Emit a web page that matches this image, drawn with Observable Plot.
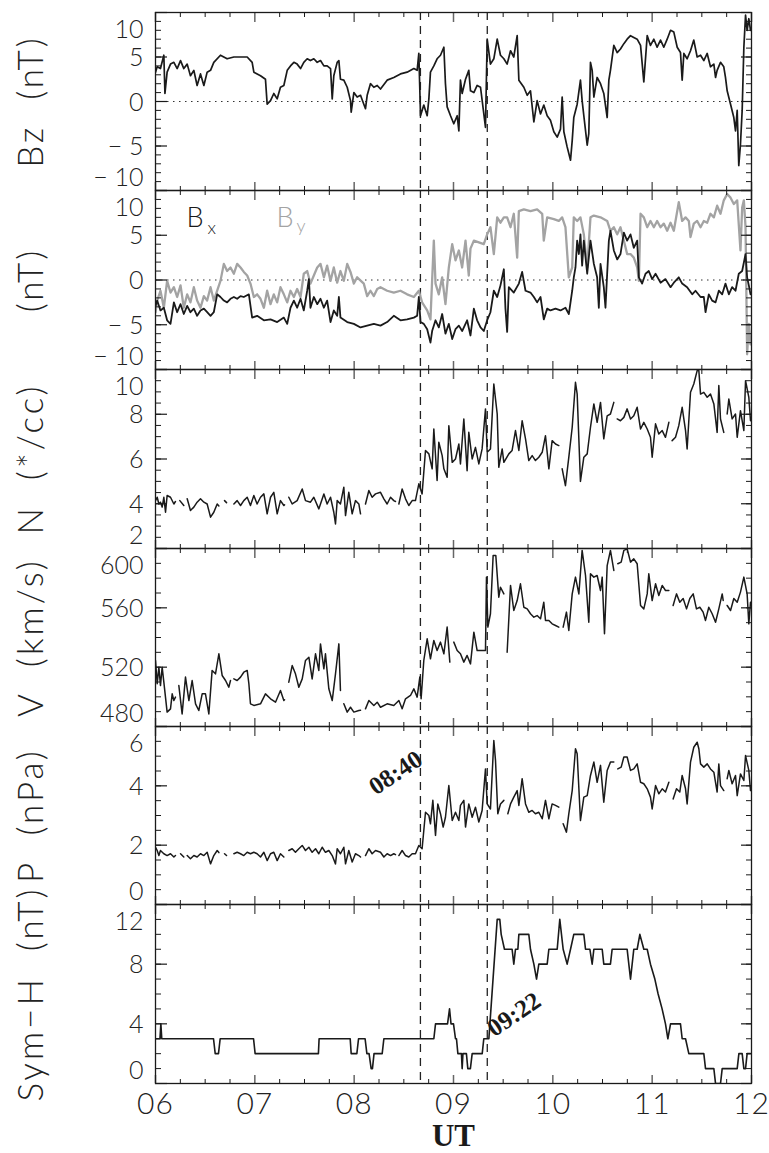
<!DOCTYPE html>
<html><head><meta charset="utf-8">
<script src="https://cdn.jsdelivr.net/npm/d3@7"></script>
<script src="https://cdn.jsdelivr.net/npm/@observablehq/plot@0.6"></script>
<style>
body{margin:0;background:#fff;}
#chart{position:relative;width:769px;height:1153px;background:#fff;}
#chart svg{position:absolute;left:0;overflow:visible;background:transparent;}
#chart text.ytitle{letter-spacing:3px;}
#chart text.xlab{letter-spacing:1px;}
</style></head><body><div id="chart"></div>
<script>
// ---------------- data (UT hours, values) ----------------
const hourTicks = [6, 7, 8, 9, 10, 11, 12];
const hourLabels = ["06", "07", "08", "09", "10", "11", "12"];
const eventTimes = [8.667, 9.34];
const eventLabels = ["08:40", "09:22"];

const bzTicks = [-10, -5, 0, 5, 10];
const bzTickLabels = ["\u2212 10", "\u2212 5", "0", "5", "10"];
const bxyTicks = [-10, -5, 0, 5, 10];
const bxyTickLabels = ["\u2212 10", "\u2212 5", "0", "5", "10"];
const nTicks = [2, 4, 6, 8, 10];
const nTickLabels = ["2", "4", "6", "8", "10"];
const vTicks = [480, 520, 560, 600];
const vTickLabels = ["480", "520", "560", "600"];
const pTicks = [0, 2, 4, 6];
const pTickLabels = ["0", "2", "4", "6"];
const symTicks = [0, 4, 8, 12];
const symTickLabels = ["0", "4", "8", "12"];

const bz = [[6.000,3.3],[6.017,3.9],[6.050,3.7],[6.084,5.2],[6.095,0.9],[6.117,3.3],[6.151,4.2],[6.185,4.4],[6.218,3.7],[6.252,4.6],[6.285,3.7],[6.319,4.2],[6.352,2.9],[6.386,3.5],[6.419,1.8],[6.453,3.1],[6.487,1.8],[6.520,3.3],[6.554,3.5],[6.587,4.4],[6.654,5.2],[6.721,4.8],[6.789,5.0],[6.856,5.0],[6.923,5.0],[6.973,4.4],[6.990,3.3],[7.057,2.9],[7.107,2.5],[7.124,-0.3],[7.158,0.1],[7.191,0.9],[7.225,0.3],[7.258,1.6],[7.292,1.8],[7.326,3.5],[7.359,4.0],[7.393,4.4],[7.426,4.2],[7.460,3.7],[7.493,4.4],[7.527,4.8],[7.560,4.6],[7.594,4.8],[7.628,4.4],[7.661,4.6],[7.695,4.0],[7.728,4.0],[7.762,3.7],[7.779,0.3],[7.795,2.9],[7.829,4.4],[7.846,4.6],[7.862,2.5],[7.896,2.4],[7.930,1.6],[7.963,0.1],[7.970,-1.2],[7.997,1.0],[8.030,0.5],[8.064,0.7],[8.097,-0.3],[8.114,-0.8],[8.131,0.7],[8.164,2.0],[8.198,1.6],[8.232,1.8],
[8.265,1.4],[8.332,2.4],[8.399,2.7],[8.466,3.1],[8.533,3.3],[8.601,3.7],[8.634,3.5],[8.651,5.4],[8.668,-1.6],[8.701,-0.4],[8.735,-1.6],[8.752,0.3],[8.768,3.3],[8.802,4.0],[8.835,4.8],[8.869,5.2],[8.903,6.1],[8.919,2.0],[8.936,-0.6],[8.970,-1.6],[9.003,-2.5],[9.037,-1.6],[9.054,-3.3],[9.070,2.4],[9.087,0.9],[9.121,2.5],[9.154,3.5],[9.171,1.2],[9.205,1.0],[9.238,1.8],[9.272,1.6],[9.322,-2.9],[9.339,7.0],[9.372,4.2],[9.406,4.8],[9.440,7.0],[9.473,5.2],[9.507,4.8],[9.540,4.2],[9.574,5.7],[9.607,5.0],[9.641,7.4],[9.658,2.4],[9.708,1.6],[9.742,0.7],[9.775,1.2],[9.809,-2.3],[9.842,0.1],[9.876,-1.4],[9.909,-0.4],[9.943,-1.6],[9.976,-2.1],[10.010,-3.4],[10.044,-4.0],[10.077,-3.1],[10.094,0.5],[10.111,-3.4],[10.144,-5.1],[10.178,-6.6],[10.195,-4.4],[10.211,-1.8],[10.245,-0.3],[10.278,2.4],[10.295,0.1],[10.312,-1.6],[10.346,-4.9],[10.362,-3.6],[10.379,4.4],[10.396,3.5],[10.413,0.5],[10.446,2.7],[10.480,2.0],[10.513,0.9],[10.547,-1.8],[10.564,2.4],[10.580,3.5],[10.614,6.3],[10.648,5.5],[10.681,5.9],[10.715,6.5],[10.748,7.0],[10.782,7.4],[10.815,7.2],[10.849,7.0],[10.883,6.3],[10.916,2.2],[10.950,7.4],[10.983,6.3],[11.017,7.0],[11.050,6.1],[11.084,6.9],[11.117,6.1],[11.151,7.0],[11.185,8.0],[11.218,7.8],[11.252,6.1],[11.285,5.5],[11.302,2.4],[11.319,5.4],[11.352,4.8],[11.386,5.7],[11.419,6.9],[11.453,5.0],[11.487,5.2],[11.520,4.6],[11.554,5.4],[11.587,3.9],[11.621,4.2],[11.638,2.7],[11.654,3.5],[11.688,4.4],[11.721,3.9],[11.738,2.7],[11.755,1.2],[11.789,-0.3],[11.822,-1.8],[11.839,-3.3],[11.856,-1.0],[11.872,-7.2],[11.889,-4.8],[11.906,-1.0],[11.923,6.1],[11.940,9.7],[11.956,8.0],[11.973,9.3],[11.990,8.0]];

const bx = [[6.000,-2.9],[6.017,-2.3],[6.050,-3.4],[6.084,-3.1],[6.117,-4.5],[6.151,-4.9],[6.185,-2.5],[6.218,-3.6],[6.252,-2.7],[6.285,-3.8],[6.319,-2.9],[6.352,-3.6],[6.386,-3.2],[6.419,-4.0],[6.453,-3.4],[6.487,-3.2],[6.520,-3.6],[6.554,-4.0],[6.587,-3.6],[6.621,-1.6],[6.654,-1.9],[6.688,-2.3],[6.721,-2.5],[6.755,-2.1],[6.789,-1.9],[6.822,-2.1],[6.856,-1.8],[6.889,-1.9],[6.940,-1.6],[6.973,-4.2],[7.023,-4.0],[7.091,-4.5],[7.158,-4.4],[7.225,-4.7],[7.292,-4.2],[7.326,-4.9],[7.359,-3.1],[7.393,-2.3],[7.426,-3.1],[7.460,-2.1],[7.493,-3.4],[7.527,-1.2],[7.544,0.1],[7.560,-3.1],[7.594,-1.9],[7.628,-2.7],[7.661,-2.1],[7.695,-3.1],[7.728,-2.3],[7.762,-4.7],[7.795,-3.4],[7.829,-4.0],[7.846,-1.9],[7.862,-4.2],[7.930,-4.7],[7.997,-4.9],[8.064,-5.3],[8.131,-5.1],[8.198,-4.9],
[8.265,-5.1],[8.332,-4.7],[8.399,-4.0],[8.466,-4.5],[8.533,-4.4],[8.601,-4.2],[8.634,-4.0],[8.651,-1.9],[8.668,-4.7],[8.701,-4.9],[8.735,-5.5],[8.768,-7.0],[8.785,-5.7],[8.819,-4.5],[8.852,-5.3],[8.886,-3.8],[8.919,-6.0],[8.953,-4.9],[8.987,-6.6],[9.020,-5.5],[9.054,-5.1],[9.087,-5.7],[9.137,-4.5],[9.171,-6.2],[9.205,-3.2],[9.238,-4.5],[9.272,-5.3],[9.305,-5.7],[9.339,-4.5],[9.372,-3.6],[9.406,-1.2],[9.440,-1.9],[9.473,-0.6],[9.507,1.2],[9.523,-3.2],[9.540,-5.8],[9.557,-0.8],[9.607,-1.4],[9.658,-0.4],[9.691,0.9],[9.725,-1.2],[9.775,-1.4],[9.809,-1.9],[9.842,-2.5],[9.876,-1.9],[9.909,-4.4],[9.943,-3.2],[9.976,-3.4],[10.027,-3.2],[10.077,-3.4],[10.127,-3.1],[10.161,-3.8],[10.195,-1.2],[10.211,0.3],[10.228,1.4],[10.245,4.4],[10.262,2.9],[10.278,5.1],[10.295,1.6],[10.312,4.4],[10.346,0.7],[10.379,4.4],[10.413,1.8],[10.446,0.3],[10.463,-3.1],[10.480,1.8],[10.513,-0.8],[10.530,-3.1],[10.547,0.7],[10.564,4.4],[10.580,5.5],[10.614,3.3],[10.648,2.3],[10.681,2.9],[10.715,5.3],[10.748,4.4],[10.782,5.1],[10.815,3.6],[10.849,4.4],[10.866,0.3],[10.899,-0.4],[10.933,0.7],[10.966,1.0],[11.000,0.1],[11.034,0.7],[11.084,-0.3],[11.134,0.1],[11.185,-0.8],[11.218,-0.3],[11.268,0.3],[11.302,-0.4],[11.352,-0.8],[11.403,-1.6],[11.436,-1.2],[11.487,-1.9],[11.520,-1.9],[11.537,-3.6],[11.570,-1.6],[11.604,-2.3],[11.638,-2.5],[11.671,-1.2],[11.705,-1.6],[11.738,-0.4],[11.772,-1.6],[11.805,-0.8],[11.839,-1.2],[11.872,0.7],[11.906,1.0],[11.940,2.9],[11.956,0.3],[11.973,-0.6],[11.990,-1.6]];

const by = [[6.000,-3.6],[6.017,-2.3],[6.050,-1.2],[6.084,-3.1],[6.117,-0.1],[6.151,-1.4],[6.185,-0.8],[6.218,-1.9],[6.252,-0.6],[6.285,-3.1],[6.319,-1.6],[6.352,-2.5],[6.386,-0.8],[6.419,-2.3],[6.453,-3.1],[6.487,-1.8],[6.520,-2.3],[6.554,-0.8],[6.587,-2.3],[6.621,-1.2],[6.654,-0.1],[6.688,1.8],[6.721,1.0],[6.755,1.4],[6.789,0.7],[6.822,1.8],[6.856,1.4],[6.889,0.9],[6.923,0.5],[6.956,-0.4],[6.990,-1.9],[7.023,-1.6],[7.057,-2.1],[7.091,-3.1],[7.124,-1.2],[7.158,-2.7],[7.191,-1.6],[7.225,-2.5],[7.258,-0.8],[7.292,-1.6],[7.326,-2.5],[7.359,-1.2],[7.393,-1.9],[7.426,-1.0],[7.460,-1.9],[7.493,0.7],[7.527,1.0],[7.560,-0.4],[7.594,0.5],[7.628,1.4],[7.661,1.8],[7.695,0.3],[7.728,1.6],[7.762,-0.1],[7.795,1.4],[7.829,-0.3],[7.862,1.0],[7.896,-0.1],[7.930,1.8],[7.963,0.9],[7.997,-0.4],[8.030,0.3],[8.097,-0.4],[8.131,-1.8],[8.164,-1.2],[8.198,-1.8],[8.232,-1.0],
[8.265,-0.8],[8.332,-1.2],[8.399,-1.4],[8.466,-1.2],[8.533,-1.6],[8.601,-1.9],[8.651,-1.2],[8.684,-2.5],[8.735,-3.4],[8.768,-4.4],[8.802,4.4],[8.819,-0.4],[8.852,-1.6],[8.886,0.3],[8.919,-2.7],[8.953,1.4],[8.987,4.0],[9.020,2.2],[9.054,3.3],[9.087,1.4],[9.121,4.4],[9.154,0.5],[9.171,3.5],[9.205,4.4],[9.255,4.2],[9.305,4.0],[9.339,5.1],[9.372,5.9],[9.406,2.9],[9.440,7.0],[9.473,6.4],[9.507,7.0],[9.540,7.0],[9.574,5.9],[9.607,7.4],[9.641,2.5],[9.658,7.7],[9.708,7.9],[9.775,7.7],[9.842,7.9],[9.893,7.4],[9.909,4.4],[9.943,7.0],[10.010,6.8],[10.060,6.6],[10.094,7.0],[10.127,5.9],[10.161,0.3],[10.195,1.4],[10.211,7.0],[10.245,6.6],[10.278,7.0],[10.312,5.1],[10.346,1.4],[10.379,7.0],[10.413,7.2],[10.480,7.0],[10.547,6.6],[10.580,5.5],[10.614,5.9],[10.648,5.1],[10.681,5.9],[10.715,4.4],[10.748,2.9],[10.782,2.9],[10.815,2.5],[10.849,1.4],[10.866,-0.1],[10.883,7.4],[10.916,7.0],[10.950,5.9],[10.983,6.6],[11.017,5.9],[11.050,6.6],[11.084,5.9],[11.117,6.3],[11.151,5.5],[11.185,6.4],[11.218,5.5],[11.268,8.7],[11.302,6.6],[11.336,7.0],[11.369,6.6],[11.386,4.8],[11.419,6.3],[11.453,6.6],[11.487,5.9],[11.520,6.6],[11.554,6.4],[11.587,7.4],[11.621,7.0],[11.654,8.3],[11.688,7.4],[11.721,8.9],[11.755,9.6],[11.789,9.2],[11.822,8.5],[11.856,8.9],[11.889,3.3],[11.906,8.1],[11.923,8.9],[11.940,5.9],[11.956,-8.3],[11.973,-4.9],[11.990,-7.2]];

const dens = [[6.000,4.14],[6.017,4.29],[6.034,3.99],[6.050,4.07],[6.067,3.85],[6.084,4.29],[6.101,3.62],[6.117,4.37],[6.151,4.29],[6.185,3.99],[6.201,4.1],[6.22,null],
[6.245,4.14],[6.285,3.92],[6.30,null],
[6.319,4.22],[6.352,3.70],[6.386,3.85],[6.419,4.07],[6.453,4.22],[6.487,4.07],[6.520,3.99],[6.554,3.40],[6.587,3.62],[6.621,3.99],[6.638,3.9],[6.66,null],
[6.695,4.14],[6.715,4.05],[6.74,null],
[6.789,3.99],[6.822,4.14],[6.856,3.92],[6.889,4.14],[6.923,4.29],[6.956,3.92],[6.990,4.37],[7.023,3.99],[7.057,4.29],[7.091,4.44],[7.124,3.55],[7.158,4.29],[7.191,4.51],[7.225,3.55],[7.258,4.14],[7.292,3.92],[7.299,3.95],[7.32,null],
[7.342,4.29],[7.376,3.99],[7.426,4.14],[7.477,4.66],[7.510,4.14],[7.560,4.07],[7.594,4.29],[7.644,3.77],[7.695,4.44],[7.728,3.99],[7.762,4.29],[7.795,3.62],[7.812,3.10],[7.829,4.14],[7.862,3.99],[7.896,4.74],[7.913,3.47],[7.946,4.51],[7.980,3.55],[8.013,4.14],[8.047,3.99],[8.064,3.55],[8.08,null],
[8.114,3.99],[8.148,4.59],[8.181,4.29],[8.215,4.44],[8.265,4.51],[8.299,4.22],[8.332,3.99],[8.366,4.29],[8.399,4.14],[8.416,4.1],[8.43,null],
[8.450,3.99],[8.483,4.66],[8.517,4.22],[8.550,3.92],[8.584,4.14],[8.617,4.14],[8.651,4.89],[8.684,4.44],[8.718,6.38],[8.752,6.23],[8.785,5.56],[8.802,7.34],[8.835,5.04],[8.852,6.75],[8.886,6.15],[8.903,5.56],[8.936,5.18],[8.953,7.49],[8.987,5.85],[9.020,6.0],[9.054,6.67],[9.070,5.78],[9.104,7.79],[9.137,5.48],[9.154,7.19],[9.188,6.0],[9.221,6.52],[9.255,5.78],[9.288,6.45],[9.322,8.24],[9.339,6.30],[9.372,6.45],[9.406,9.35],[9.440,8.01],[9.456,5.63],[9.490,6.45],[9.507,5.85],[9.557,6.23],[9.590,6.38],[9.624,7.27],[9.658,6.38],[9.691,7.71],[9.725,6.90],[9.758,5.93],[9.792,6.15],[9.825,5.93],[9.859,6.08],[9.893,6.30],[9.926,7.04],[9.960,5.56],[9.993,6.82],[10.027,6.67],[10.060,6.60],[10.08,null],
[10.094,5.56],[10.127,4.81],[10.161,6.08],[10.195,7.42],[10.228,9.43],[10.245,8.90],[10.278,5.0],[10.312,6.08],[10.346,6.23],[10.379,7.42],[10.413,8.46],[10.446,7.64],[10.480,8.53],[10.513,6.90],[10.547,7.93],[10.580,8.01],[10.614,8.53],[10.63,null],
[10.648,7.79],[10.681,7.71],[10.715,7.86],[10.748,8.24],[10.782,7.79],[10.815,7.93],[10.849,8.31],[10.883,7.34],[10.916,7.64],[10.950,7.34],[10.983,6.97],[11.000,6.08],[11.034,7.57],[11.067,7.12],[11.101,7.27],[11.134,6.97],[11.168,7.64],[11.19,null],
[11.201,6.82],[11.235,6.97],[11.268,7.49],[11.302,8.31],[11.336,7.27],[11.352,6.45],[11.386,8.98],[11.419,9.35],[11.453,9.95],[11.470,9.95],[11.487,8.90],[11.520,8.98],[11.554,8.76],[11.587,8.90],[11.621,8.46],[11.654,7.19],[11.671,9.28],[11.688,7.79],[11.721,7.19],[11.73,null],
[11.755,8.01],[11.772,8.68],[11.805,7.79],[11.839,8.01],[11.856,6.97],[11.889,8.16],[11.923,7.27],[11.940,9.50],[11.973,8.76],[11.990,7.71]];

const speed = [[6.000,524.5],[6.017,508.8],[6.034,520],[6.050,507.6],[6.067,520],[6.084,509.9],[6.117,489.7],[6.151,491.9],[6.168,502],[6.185,497.5],[6.201,499.8],[6.22,null],
[6.235,507.6],[6.268,488.5],[6.302,513.3],[6.336,497.5],[6.369,511],[6.403,495.3],[6.436,490.8],[6.470,502],[6.503,502],[6.537,488.5],[6.570,517.8],[6.604,515.5],[6.638,529],[6.671,514.4],[6.705,511],[6.738,506.5],[6.755,511],[6.77,null],
[6.789,512.1],[6.822,511],[6.856,513.3],[6.889,516.6],[6.923,517.8],[6.940,508.8],[6.956,495.3],[6.990,494.2],[7.057,495.3],[7.107,502],[7.158,498.7],[7.208,496.4],[7.258,504.3],[7.292,497.5],[7.299,498],[7.32,null],
[7.342,509.9],[7.376,521.1],[7.409,515.5],[7.443,506.5],[7.477,512.1],[7.510,524.5],[7.544,526.7],[7.577,512.1],[7.611,529],[7.644,517.8],[7.661,535.7],[7.695,518.9],[7.711,529],[7.745,505.4],[7.779,497.5],[7.812,515.5],[7.846,535.7],[7.862,504.3],[7.88,null],
[7.896,495.3],[7.930,489.7],[7.963,493],[7.997,489.7],[8.047,490.8],[8.064,491],[8.08,null],
[8.114,491.9],[8.148,497.5],[8.198,494.2],[8.232,496.4],[8.265,493],[8.332,495.3],[8.399,494.2],[8.450,497.5],[8.483,491.9],[8.517,498.7],[8.567,500.9],[8.601,505.4],[8.634,499.8],[8.661,513.3],[8.674,498.7],[8.701,524.5],[8.735,539.1],[8.768,525.6],[8.802,538],[8.835,531.2],[8.869,536.9],[8.903,529],[8.936,547],[8.963,523.4],[8.98,null],
[9.003,536.9],[9.037,531.2],[9.070,529],[9.104,523.4],[9.137,527.9],[9.171,522.2],[9.205,543.6],[9.238,531.2],[9.272,531.2],[9.322,531.2],[9.332,580.7],[9.346,547],[9.372,556],[9.399,595.3],[9.426,595.3],[9.456,567.2],[9.473,573.9],[9.507,569.4],[9.52,null],
[9.540,530.1],[9.574,575.1],[9.607,558.2],[9.641,564.9],[9.674,576.2],[9.708,560.4],[9.742,559.3],[9.775,556],[9.809,553.7],[9.842,554.8],[9.876,552.6],[9.909,563.8],[9.926,551.5],[9.960,551.5],[9.993,549.2],[10.027,548.1],[10.060,547],[10.08,null],
[10.104,547],[10.137,557.1],[10.161,544.7],[10.195,569.4],[10.228,580.7],[10.262,569.4],[10.295,598.7],[10.329,581.8],[10.362,550.3],[10.379,582.9],[10.413,580.7],[10.446,581.8],[10.480,571.7],[10.497,580.7],[10.520,542.5],[10.547,588.5],[10.580,598.7],[10.614,585.2],[10.63,null],
[10.654,589.7],[10.688,590.8],[10.715,598.7],[10.748,599.8],[10.782,590.8],[10.815,593],[10.849,589.7],[10.883,561.6],[10.916,559.3],[10.950,569.4],[10.966,582.9],[11.000,564.9],[11.034,576.2],[11.067,568.3],[11.101,575.1],[11.134,571.7],[11.168,571.7],[11.19,null],
[11.211,561.6],[11.245,569.4],[11.278,563.8],[11.312,566.3],[11.346,559.3],[11.379,566.3],[11.413,569.4],[11.446,559.3],[11.480,560.4],[11.513,557.1],[11.537,551.5],[11.570,560.4],[11.604,556],[11.638,550.3],[11.671,559.3],[11.705,569.4],[11.715,565],[11.73,null],
[11.755,561.6],[11.789,558.2],[11.822,566.3],[11.856,563.8],[11.889,570.6],[11.923,580.7],[11.956,569.4],[11.973,549.2],[11.990,563.8]];

const press = [[6.000,1.93],[6.017,1.82],[6.034,1.65],[6.050,1.82],[6.084,1.71],[6.117,1.65],[6.151,1.71],[6.185,1.60],[6.201,1.65],[6.22,null],
[6.252,1.71],[6.285,1.60],[6.30,null],
[6.319,1.65],[6.352,1.54],[6.386,1.65],[6.419,1.60],[6.453,1.71],[6.487,1.65],[6.520,1.76],[6.554,1.37],[6.587,1.65],[6.621,1.82],[6.638,1.75],[6.66,null],
[6.695,1.71],[6.715,1.65],[6.74,null],
[6.789,1.71],[6.822,1.76],[6.856,1.71],[6.889,1.65],[6.923,1.76],[6.956,1.71],[6.990,1.76],[7.023,1.71],[7.057,1.60],[7.091,1.76],[7.124,1.48],[7.158,1.71],[7.191,1.76],[7.225,1.48],[7.258,1.71],[7.292,1.60],[7.32,null],
[7.342,1.82],[7.376,1.88],[7.409,1.76],[7.443,1.88],[7.477,1.99],[7.510,1.82],[7.544,1.93],[7.577,1.76],[7.611,1.88],[7.644,1.71],[7.678,1.93],[7.711,1.76],[7.745,1.82],[7.779,1.65],[7.812,1.37],[7.829,1.88],[7.862,1.71],[7.896,1.93],[7.913,1.37],[7.946,1.82],[7.980,1.43],[8.013,1.71],[8.047,1.65],[8.064,1.60],[8.08,null],
[8.114,1.65],[8.148,1.88],[8.181,1.71],[8.215,1.82],[8.265,1.76],[8.299,1.60],[8.332,1.71],[8.366,1.65],[8.399,1.71],[8.416,1.68],[8.43,null],
[8.450,1.65],[8.483,1.82],[8.517,1.65],[8.550,1.60],[8.584,1.71],[8.617,1.71],[8.651,1.99],[8.684,1.88],[8.718,3.11],[8.752,3.00],[8.768,2.72],[8.792,3.51],[8.819,2.33],[8.842,3.39],[8.869,3.06],[8.896,2.61],[8.919,2.94],[8.953,4.01],[8.987,2.83],[9.020,3.11],[9.054,2.83],[9.070,3.34],[9.104,3.51],[9.121,2.61],[9.154,3.39],[9.188,2.94],[9.221,3.28],[9.255,2.78],[9.288,3.17],[9.322,4.57],[9.339,3.39],[9.372,3.22],[9.406,5.53],[9.423,4.85],[9.446,3.06],[9.473,3.39],[9.507,3.51],[9.52,null],
[9.547,3.06],[9.574,3.39],[9.607,3.62],[9.641,3.84],[9.658,3.34],[9.691,4.24],[9.725,3.39],[9.758,3.11],[9.792,3.17],[9.825,3.06],[9.859,3.11],[9.893,2.89],[9.926,3.51],[9.960,2.89],[9.993,3.39],[10.027,3.34],[10.060,3.28],[10.08,null],
[10.104,2.72],[10.137,2.44],[10.161,3.06],[10.195,3.84],[10.228,5.25],[10.245,5.08],[10.278,2.83],[10.312,3.62],[10.346,3.67],[10.379,4.35],[10.413,4.80],[10.446,4.12],[10.480,4.69],[10.513,3.45],[10.547,4.52],[10.580,4.80],[10.614,4.80],[10.63,null],
[10.654,4.57],[10.688,4.63],[10.715,4.97],[10.748,4.97],[10.782,4.52],[10.815,4.57],[10.849,4.74],[10.883,4.12],[10.916,4.07],[10.950,3.90],[10.983,3.62],[11.000,3.22],[11.034,4.01],[11.067,3.73],[11.101,3.90],[11.134,3.79],[11.168,4.12],[11.19,null],
[11.211,3.56],[11.245,3.90],[11.278,3.79],[11.302,4.35],[11.336,3.90],[11.352,3.39],[11.386,4.80],[11.419,5.30],[11.453,5.47],[11.470,5.25],[11.487,4.74],[11.520,4.63],[11.554,4.74],[11.587,4.57],[11.621,4.46],[11.654,3.79],[11.671,4.74],[11.688,4.01],[11.721,3.84],[11.73,null],
[11.755,4.24],[11.772,4.52],[11.805,4.07],[11.839,4.35],[11.856,3.67],[11.889,4.40],[11.923,4.18],[11.940,5.02],[11.973,4.52],[11.990,3.84]];

const symh = [[6.000,3],[6.045,3],[6.054,4],[6.063,3],[6.584,3],[6.601,2],[6.634,2],[6.651,3],[6.987,3],[7.003,2],[7.640,2],[7.647,3],[7.960,3],[7.970,2],[8.027,2],[8.044,3],[8.110,3],[8.128,2],[8.150,2],[8.171,1],[8.184,1],[8.200,2],[8.282,2],[8.299,3],[8.802,3],[8.819,4],[8.940,4],[8.960,5],[8.975,4],[9.000,4],[9.020,3],[9.030,3],[9.044,2],[9.080,2],[9.087,1],[9.095,2],[9.130,2],[9.144,1],[9.170,1],[9.188,2],[9.289,2],[9.305,3],[9.356,3],[9.440,11],[9.466,11],[9.480,10],[9.513,9],[9.590,9],[9.607,8],[9.624,9],[9.648,9],[9.658,10],[9.758,10],[9.775,9],[9.809,8],[9.836,7],[9.859,8],[9.943,8],[9.960,9],[10.044,9],[10.070,11],[10.104,9],[10.144,8],[10.178,9],[10.211,10],[10.312,10],[10.329,9],[10.373,9],[10.396,8],[10.413,9],[10.497,9],[10.513,8],[10.580,8],[10.597,9],[10.748,9],[10.782,7],[10.815,9],[10.849,9],[10.876,10],[10.916,9],[10.950,9],[10.983,8],[11.027,7],[11.060,6],[11.100,5],[11.134,4],[11.158,3],[11.185,4],[11.285,4],[11.302,3],[11.336,3],[11.369,2],[11.520,2],[11.537,1],[11.621,1],[11.638,0],[11.688,0],[11.705,1],[11.856,1],[11.873,2],[11.906,2],[11.923,1],[11.940,1],[11.956,2],[11.990,2]];

// ---------------- layout / style ----------------
const W = 769, ML = 155, MR = 18;
const PW = W - ML - MR;
const LIGHT = "Lato, 'DejaVu Sans', sans-serif";
const SERIF = "'Liberation Serif', 'Times New Roman', serif";
const INK = "#1a1a1a";

const panels = [
  {title: "Bz  (nT)", domain: [-10, 10], ticks: bzTicks, labels: bzTickLabels, minor: 1, top: 0, mt: 12, h: 178, mb: 0,
   series: [{data: bz, stroke: INK, w: 1.7}], zero: true},
  {title: "(nT)", domain: [-10, 10], ticks: bxyTicks, labels: bxyTickLabels, minor: 1, top: 190, mt: 0, h: 179, mb: 0,
   series: [{data: by, stroke: "#a3a3a3", w: 2.3}, {data: bx, stroke: INK, w: 1.8}], zero: true, legend: true},
  {title: "N  (*/cc)", domain: [2, 10], ticks: nTicks, labels: nTickLabels, minor: 0.5, top: 369, mt: 0, h: 179, mb: 0,
   series: [{data: dens, stroke: INK, w: 1.5}]},
  {title: "V  (km/s)", domain: [480, 600], ticks: vTicks, labels: vTickLabels, minor: 10, top: 548, mt: 0, h: 178, mb: 0,
   series: [{data: speed, stroke: INK, w: 1.5}]},
  {title: "P  (nPa)", domain: [0, 6], ticks: pTicks, labels: pTickLabels, minor: 0.5, top: 726, mt: 0, h: 178, mb: 0,
   series: [{data: press, stroke: INK, w: 1.5}], note: 0},
  {title: "Sym\u2212H  (nT)", domain: [0, 12], ticks: symTicks, labels: symTickLabels, minor: 1, top: 904, mt: 0, h: 179, mb: 70,
   series: [{data: symh, stroke: INK, w: 1.6}], note: 1, xlabels: true}
];

const quarters = d3.range(6, 12.0001, 0.25).filter(d => Math.abs(d - Math.round(d)) > 1e-6);
const events = eventTimes.map((t, i) => ({time: t, label: eventLabels[i]}));

const root = document.getElementById("chart");

panels.forEach((p) => {
  const H = p.h;
  const minorY = d3.range(p.domain[0], p.domain[1] + 1e-9, p.minor);
  const tickPairs = p.ticks.map((v, i) => ({v, label: p.labels[i]}));
  const n = tickPairs.length;
  const marks = [];

  marks.push(Plot.ruleX(events, {x: "time", stroke: "#222", strokeWidth: 1.3, strokeDasharray: "8,6"}));
  if (p.zero) marks.push(Plot.ruleY([0], {stroke: "#333", strokeWidth: 1, strokeDasharray: "1.5,4.5"}));

  p.series.forEach(s => {
    marks.push(Plot.line(s.data, {x: d => d[0], y: d => d[1], stroke: s.stroke, strokeWidth: s.w, clip: true, strokeLinejoin: "round"}));
  });

  // inward ticks on all four sides
  marks.push(Plot.tickY(minorY, {y: d => d, insetRight: PW - 6, stroke: INK, strokeWidth: 1}));
  marks.push(Plot.tickY(p.ticks, {y: d => d, insetRight: PW - 12, stroke: INK, strokeWidth: 1.2}));
  marks.push(Plot.tickY(minorY, {y: d => d, insetLeft: PW - 5, stroke: INK, strokeWidth: 1}));
  marks.push(Plot.tickY(p.ticks, {y: d => d, insetLeft: PW - 10, stroke: INK, strokeWidth: 1.2}));
  marks.push(Plot.tickX(quarters, {x: d => d, insetBottom: H - 5, stroke: INK, strokeWidth: 1}));
  marks.push(Plot.tickX(hourTicks, {x: d => d, insetBottom: H - 10, stroke: "#666", strokeWidth: 1.5}));
  marks.push(Plot.tickX(quarters, {x: d => d, insetTop: H - 4, stroke: INK, strokeWidth: 1}));
  marks.push(Plot.tickX(hourTicks, {x: d => d, insetTop: H - 8, stroke: "#666", strokeWidth: 1.5}));

  marks.push(Plot.frame({stroke: INK, strokeWidth: 1.3}));

  // y tick labels (edge labels nudged inside the panel)
  const lab = {frameAnchor: "left", dx: -12, textAnchor: "end", text: "label", fontSize: 25, fontFamily: LIGHT, fontWeight: 300, fill: "#222"};
  marks.push(Plot.text(tickPairs.slice(0, 1), {...lab, y: "v", dy: -13}));
  marks.push(Plot.text(tickPairs.slice(1, n - 1), {...lab, y: "v", dy: 1}));
  marks.push(Plot.text(tickPairs.slice(n - 1), {...lab, y: "v", dy: 17}));

  // axis title
  marks.push(Plot.text([p.title], {className: "ytitle", frameAnchor: "left", dx: -(ML - 31), rotate: -90, text: d => d, fontSize: 35, fontFamily: LIGHT, fontWeight: 300, fill: "#222", textAnchor: "middle"}));

  if (p.legend) {
    marks.push(Plot.text(["B"], {frameAnchor: "top-left", dx: 31, dy: 17, lineAnchor: "top", textAnchor: "start", text: d => d, fontSize: 27, fontFamily: LIGHT, fontWeight: 300, fill: INK}));
    marks.push(Plot.text(["x"], {frameAnchor: "top-left", dx: 52, dy: 31, lineAnchor: "top", textAnchor: "start", text: d => d, fontSize: 18, fontFamily: LIGHT, fontWeight: 300, fill: INK}));
    marks.push(Plot.text(["B"], {frameAnchor: "top-left", dx: 121, dy: 17, lineAnchor: "top", textAnchor: "start", text: d => d, fontSize: 27, fontFamily: LIGHT, fontWeight: 300, fill: "#a3a3a3"}));
    marks.push(Plot.text(["y"], {frameAnchor: "top-left", dx: 141, dy: 29, lineAnchor: "top", textAnchor: "start", text: d => d, fontSize: 18, fontFamily: LIGHT, fontWeight: 300, fill: "#a3a3a3"}));
  }

  if (p.note === 0) {
    marks.push(Plot.text(events.slice(0, 1), {x: "time", frameAnchor: "top", dx: -6, dy: 22, textAnchor: "end", rotate: -34, text: "label", fontSize: 25, fontFamily: SERIF, fontWeight: "bold", fill: INK}));
  }
  if (p.note === 1) {
    marks.push(Plot.text(events.slice(1, 2), {x: "time", frameAnchor: "bottom", dx: 7, dy: -46, textAnchor: "start", rotate: -34, text: "label", fontSize: 25, fontFamily: SERIF, fontWeight: "bold", fill: INK}));
  }

  if (p.xlabels) {
    const xl = hourTicks.map((h, i) => ({h, label: hourLabels[i]}));
    marks.push(Plot.text(xl, {className: "xlab", x: "h", frameAnchor: "bottom", dy: 30, text: "label", fontSize: 30, fontFamily: LIGHT, fontWeight: 300, fill: "#222"}));
    marks.push(Plot.text(["UT"], {frameAnchor: "bottom", dy: 62, text: d => d, fontSize: 31, fontFamily: SERIF, fontWeight: "bold", fill: INK}));
  }

  const svg = Plot.plot({
    width: W, height: p.mt + H + p.mb,
    marginTop: p.mt, marginBottom: p.mb, marginLeft: ML, marginRight: MR,
    x: {domain: [6, 12], axis: null},
    y: {domain: p.domain, axis: null},
    style: {background: "transparent", overflow: "visible"},
    marks
  });
  svg.style.top = p.top + "px";
  svg.querySelectorAll("g.ytitle text").forEach(t => t.classList.add("ytitle"));
  svg.querySelectorAll("g.xlab text").forEach(t => t.classList.add("xlab"));
  root.appendChild(svg);
});
</script>
</body></html>
